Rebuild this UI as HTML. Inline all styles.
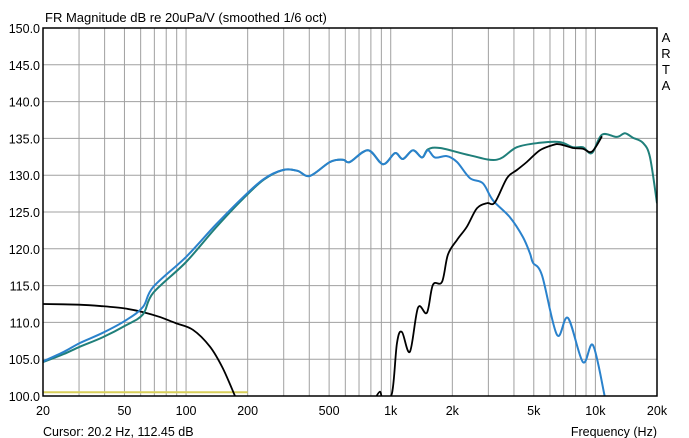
<!DOCTYPE html>
<html><head><meta charset="utf-8"><style>
body{margin:0;background:#fff;}
svg{display:block;font-family:"Liberation Sans",sans-serif;}
</style></head><body>
<svg id="chart" width="689" height="438"></svg>
<script>
const xTickFreqs=[20,50,100,200,500,1000,2000,5000,10000,20000];
const xTickLabels=["20","50","100","200","500","1k","2k","5k","10k","20k"];
const yTicks=[100,105,110,115,120,125,130,135,140,145,150];
const gridFreqs=[20,30,40,50,60,70,80,90,100,200,300,400,500,600,700,800,900,1000,2000,3000,4000,5000,6000,7000,8000,9000,10000,20000];
const wooferFreq=[20,25.3,30.3,39.3,50.9,61.6,69,100,140,189.8,240,297.7,350,402.8,505,584,632,774,917,1049,1147,1284,1421,1520,1645,1882,2107,2438,2821,3158,3824,4425,4787,4955,5483,6490,7346,8693,9730,11120];
const wooferDb=[104.7,106.0,107.2,108.6,110.3,112.1,114.8,118.9,123.3,127.0,129.5,130.7,130.6,129.9,131.8,132.1,131.8,133.4,131.5,133.0,132.2,133.4,132.4,133.4,132.4,132.6,131.8,129.6,128.9,126.6,124.3,121.6,119.4,118.1,116.4,108.3,110.6,104.6,106.9,99.9];
const sumFreq=[20,25.3,30.3,39.3,50.9,61.6,69,100,140,189.8,240,297.7,350,402.8,505,584,632,774,917,1049,1147,1284,1421,1520,1740,2438,3303,4136,5358,6709,7767,8693,9617,10770,12740,13940,15250,17070,18460,20000];
const sumDb=[104.6,105.7,106.7,108.0,109.6,111.1,114.0,118.2,122.9,126.8,129.4,130.7,130.6,129.9,131.8,132.1,131.8,133.4,131.5,133.0,132.2,133.4,132.4,133.5,133.7,132.7,132.1,133.8,134.4,134.5,133.8,133.8,133.0,135.5,135.2,135.7,135.1,134.4,132.5,126.2];
const tweetFreq=[837,886,917,1014,1073,1134,1241,1359,1503,1608,1780,1903,2107,2356,2637,2952,3229,3698,4136,4625,5358,6200,6709,7767,8693,9617,10770];
const tweetDb=[99.6,100.6,99.6,100.4,107.2,108.7,106.0,112.0,111.3,115.1,115.5,119.2,121.2,123.0,125.5,126.2,126.3,129.6,130.7,131.8,133.4,134.1,134.2,133.7,133.6,133.2,135.3];
const lpFreq=[20,30,39,50,61.6,75,89,108,130.9,151,173.4];
const lpDb=[112.5,112.4,112.2,111.9,111.4,110.7,109.9,109.0,106.7,103.8,100.0];
const refFreq=[20,200];
const refDb=[100.5,100.5];

const L=43,R=657,T=28,B=396;
const X=f=>L+(R-L)*Math.log10(f/20)/3;
const Y=d=>T+(B-T)*(150-d)/50;
const NS="http://www.w3.org/2000/svg";
const svg=document.getElementById('chart');
function mk(tag,attrs,parent){const e=document.createElementNS(NS,tag);for(const k in attrs)e.setAttribute(k,attrs[k]);(parent||svg).appendChild(e);return e;}
const defs=mk('defs',{});const cp=mk('clipPath',{id:'clip'},defs);mk('rect',{x:L,y:T,width:R-L,height:B-T},cp);
const grid=mk('g',{});


gridFreqs.forEach(f=>{const l=mk('line',{x1:X(f),x2:X(f),y1:T,y2:B,stroke:'#a0a0a0','stroke-width':1},grid);

});
yTicks.forEach(d=>{const l=mk('line',{x1:L,x2:R,y1:Y(d),y2:Y(d),stroke:'#a0a0a0','stroke-width':1},grid);


const t=mk('text',{x:40,y:Y(d)+5,'text-anchor':'end','font-size':12.5,fill:'#000'});t.textContent=d.toFixed(1);

});
xTickFreqs.forEach((f,i)=>{const t=mk('text',{x:X(f),y:415,'text-anchor':'middle','font-size':12.5,fill:'#000'});t.textContent=xTickLabels[i];

});
function smoothPath(pts){let d='M'+pts[0][0].toFixed(1)+','+pts[0][1].toFixed(1);
for(let i=0;i<pts.length-1;i++){const p0=pts[Math.max(0,i-1)],p1=pts[i],p2=pts[i+1],p3=pts[Math.min(pts.length-1,i+2)];
const c1x=p1[0]+(p2[0]-p0[0])/6,c1y=p1[1]+(p2[1]-p0[1])/6,c2x=p2[0]-(p3[0]-p1[0])/6,c2y=p2[1]-(p3[1]-p1[1])/6;
d+=' C'+c1x.toFixed(1)+','+c1y.toFixed(1)+' '+c2x.toFixed(1)+','+c2y.toFixed(1)+' '+p2[0].toFixed(1)+','+p2[1].toFixed(1);}
return d;}
function series(fs,ds,color,w,name){const pts=fs.map((f,i)=>[X(f),Y(ds[i])]);
const p=mk('path',{d:smoothPath(pts),fill:'none',stroke:color,'stroke-width':w,'stroke-linejoin':'round','clip-path':'url(#clip)'});

}
series(refFreq,refDb,'#d8cf5a',2,'reference-line');
series(lpFreq,lpDb,'#000',1.8,'lowpass-curve');
series(sumFreq,sumDb,'#1f7f7a',2,'sum-response-curve');
series(wooferFreq,wooferDb,'#2a82cc',2,'woofer-response-curve');
series(tweetFreq,tweetDb,'#000',1.8,'tweeter-response-curve');
const fr=mk('rect',{x:L,y:T,width:R-L,height:B-T,fill:'none',stroke:'#000','stroke-width':1.5});


</script>
<svg style="position:absolute;left:0;top:0" width="689" height="438">
<text x="45" y="22" font-size="13" font-family="Liberation Sans,sans-serif">FR Magnitude dB re 20uPa/V (smoothed 1/6 oct)</text>
<text x="666" y="42" font-size="13" text-anchor="middle" font-family="Liberation Sans,sans-serif"><tspan x="666" dy="0">A</tspan><tspan x="666" dy="16">R</tspan><tspan x="666" dy="16">T</tspan><tspan x="666" dy="16">A</tspan></text>
<text x="43" y="436" font-size="12.5" font-family="Liberation Sans,sans-serif">Cursor: 20.2 Hz, 112.45 dB</text>
<text x="657" y="436" font-size="12.5" text-anchor="end" font-family="Liberation Sans,sans-serif">Frequency (Hz)</text>
</svg>
</body></html>
